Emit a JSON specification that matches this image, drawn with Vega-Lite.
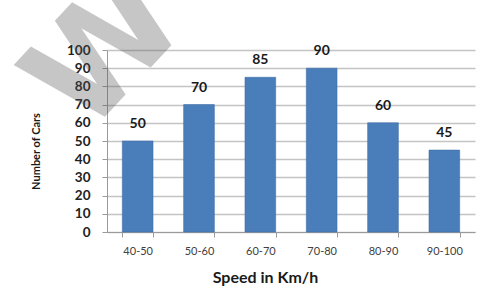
{
  "$schema": "https://vega.github.io/schema/vega-lite/v6.json",
  "width": 368,
  "height": 182,
  "autosize": {"type": "none"},
  "padding": {"left": 107, "top": 50, "right": 20, "bottom": 67},
  "background": "white",
  "config": {"view": {"stroke": null}, "font": "Lato"},
  "data": {
    "values": [
      {"speed": "40-50", "cars": 50},
      {"speed": "50-60", "cars": 70},
      {"speed": "60-70", "cars": 85},
      {"speed": "70-80", "cars": 90},
      {"speed": "80-90", "cars": 60},
      {"speed": "90-100", "cars": 45}
    ]
  },
  "encoding": {
    "x": {
      "field": "speed",
      "type": "nominal",
      "sort": null,
      "title": "Speed in Km/h",
      "scale": {"paddingInner": 0.5, "paddingOuter": 0.25},
      "axis": {
        "labelAngle": 0,
        "labelFontSize": 11,
        "labelColor": "#404040",
        "labelPadding": 8,
        "tickBand": "extent",
        "tickSize": 5,
        "tickColor": "#9a9a9a",
        "domainColor": "#9a9a9a",
        "titleFontSize": 16,
        "titleFontWeight": "bold",
        "titleColor": "#1a1a1a",
        "titlePadding": 13,
        "titleX": 158
      }
    },
    "y": {
      "field": "cars",
      "type": "quantitative",
      "title": "Number of Cars",
      "scale": {"domain": [0, 100]},
      "axis": {
        "values": [0, 10, 20, 30, 40, 50, 60, 70, 80, 90, 100],
        "labelFontSize": 13.5,
        "labelFontWeight": "bold",
        "labelColor": "#222222",
        "labelPadding": 12,
        "tickSize": 5,
        "tickColor": "#9a9a9a",
        "domainColor": "#9a9a9a",
        "gridColor": "#c4c4c4",
        "gridWidth": 1.3,
        "titleFontSize": 11,
        "titleFontWeight": "bold",
        "titleColor": "#1a1a1a",
        "titlePadding": 25,
        "titleY": 101
      }
    }
  },
  "layer": [
    {
      "mark": {"type": "bar", "color": "#4A7EBB", "stroke": "#3E6DA6", "strokeWidth": 0.6}
    },
    {
      "mark": {"type": "text", "baseline": "bottom", "dy": -10, "fontSize": 14, "fontWeight": "bold", "color": "#1a1a1a"},
      "encoding": {"text": {"field": "cars", "type": "quantitative"}}
    },
    {
      "data": {"values": [{"speed": "40-50", "cars": 97, "wm": "W"}]},
      "mark": {"type": "text", "font": "DejaVu Sans", "fontWeight": "bold", "fontSize": 140, "angle": -47, "align": "center", "baseline": "middle", "dx": -8, "dy": -13, "color": "#555555", "opacity": 0.33},
      "encoding": {
        "x": {"field": "speed", "type": "nominal", "sort": null, "bandPosition": 0},
        "text": {"field": "wm", "type": "nominal"}
      }
    }
  ]
}
